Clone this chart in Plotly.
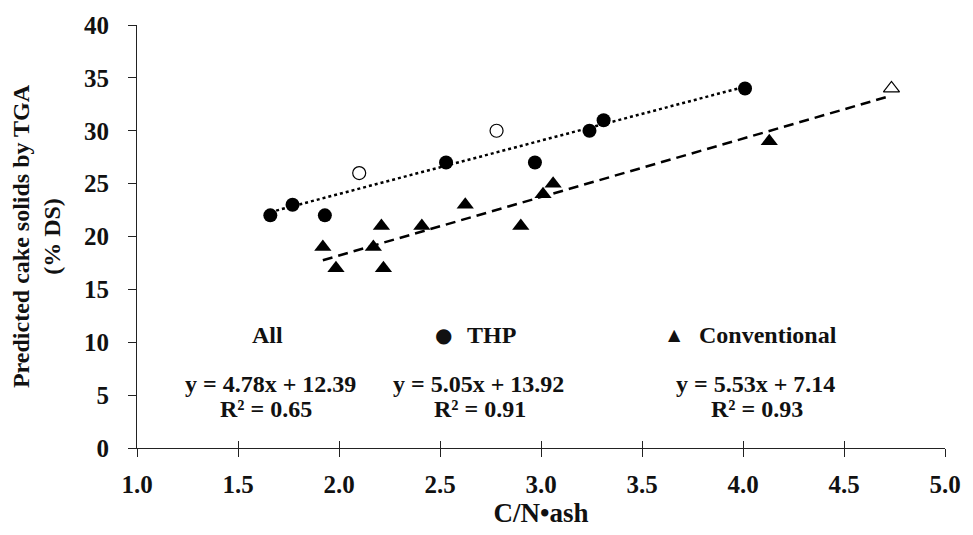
import plotly.graph_objects as go
import numpy as np

# THP (filled circles)
thp_x = [1.66, 1.77, 1.93, 2.53, 2.97, 3.24, 3.31, 4.01]
thp_y = [22, 23, 22, 27, 27, 30, 31, 34]
# THP open circles
thp_open_x = [2.10, 2.78]
thp_open_y = [26, 30]
# Conventional (filled triangles)
conv_x = [1.92, 1.985, 2.17, 2.21, 2.22, 2.41, 2.625, 2.90, 3.01, 3.06, 4.13]
conv_y = [19, 17, 19, 21, 17, 21, 23, 21, 24, 25, 29]
# Conventional open triangle
conv_open_x = [4.735]
conv_open_y = [34]

# Fitted lines (slope, intercept) as printed
thp_fit = [5.05, 13.92]
conv_fit = [5.53, 7.14]

x_ticks = [1.0, 1.5, 2.0, 2.5, 3.0, 3.5, 4.0, 4.5, 5.0]
y_ticks = [0, 5, 10, 15, 20, 25, 30, 35, 40]

FONT = "Liberation Serif"
fig = go.Figure()

# trend lines
tx = np.array([min(thp_x + thp_open_x), max(thp_x + thp_open_x)])
fig.add_trace(go.Scatter(x=tx, y=thp_fit[0] * tx + thp_fit[1], mode="lines",
                         line=dict(color="black", width=2.5, dash="dot"), hoverinfo="skip"))
cx = np.array([min(conv_x + conv_open_x), max(conv_x + conv_open_x)])
fig.add_trace(go.Scatter(x=cx, y=conv_fit[0] * cx + conv_fit[1], mode="lines",
                         line=dict(color="black", width=2.5, dash="10px,6px"), hoverinfo="skip"))

fig.add_trace(go.Scatter(x=thp_x, y=thp_y, mode="markers",
                         marker=dict(symbol="circle", size=14, color="black")))
fig.add_trace(go.Scatter(x=thp_open_x, y=thp_open_y, mode="markers",
                         marker=dict(symbol="circle", size=13, color="white",
                                     line=dict(color="black", width=1.2))))
fig.add_trace(go.Scatter(x=conv_x, y=conv_y, mode="markers",
                         marker=dict(symbol="triangle-up", size=15, color="black")))
fig.add_trace(go.Scatter(x=conv_open_x, y=conv_open_y, mode="markers",
                         marker=dict(symbol="triangle-up", size=14, color="white",
                                     line=dict(color="black", width=1.2))))

ann_font = dict(family=FONT, size=24, color="#111", weight="bold")
anns = [
    (1.644, 10.72, "All", 24),
    (2.515, 10.72, "●", 20),
    (2.753, 10.72, "THP", 24),
    (3.663, 10.72, "▲", 16),
    (4.122, 10.72, "Conventional", 24),
    (1.659, 6.03, "y = 4.78x + 12.39", 24),
    (1.639, 3.70, "R² = 0.65", 24),
    (2.693, 6.03, "y = 5.05x + 13.92", 24),
    (2.698, 3.70, "R² = 0.91", 24),
    (4.063, 6.03, "y = 5.53x + 7.14", 24),
    (4.067, 3.70, "R² = 0.93", 24),
]
for ax_, ay_, t, fs in anns:
    f = dict(ann_font)
    f["size"] = fs
    if t in ("●", "▲"):
        f["family"] = "DejaVu Sans"
    fig.add_annotation(x=ax_, y=ay_, text=t, showarrow=False, font=f,
                       xanchor="center", yanchor="middle")

tick_font = dict(family=FONT, size=25, color="#111", weight="bold")
fig.update_layout(
    width=973, height=535,
    margin=dict(l=137, r=28, t=18, b=86),
    paper_bgcolor="white", plot_bgcolor="white",
    showlegend=False,
    font=dict(family=FONT, color="black"),
    xaxis=dict(range=[1.0, 5.0], tickvals=x_ticks, ticktext=[f"{v:.1f}" for v in x_ticks],
               ticks="outside", ticklen=8, tickwidth=1, tickcolor="#222",
               showline=True, linecolor="#222", linewidth=1, showgrid=False, zeroline=False,
               tickfont=tick_font, ticklabelstandoff=6,
               title=dict(text="C/N•ash", font=dict(family=FONT, size=27, weight="bold", color="#111"),
                          standoff=6)),
    xaxis2=dict(range=[1.0, 5.0], overlaying="x", tickvals=x_ticks, showticklabels=False,
                ticks="inside", ticklen=7, tickwidth=1, tickcolor="#222",
                showline=False, showgrid=False, zeroline=False),
    yaxis=dict(range=[0, 40], tickvals=y_ticks,
               ticks="outside", ticklen=8, tickwidth=1, tickcolor="#222",
               showline=True, linecolor="#222", linewidth=1, showgrid=False, zeroline=False,
               tickfont=tick_font, ticklabelstandoff=14,
               title=dict(text="Predicted cake solids by TGA<br>(% DS)",
                          font=dict(family=FONT, size=24, weight="bold", color="#111"), standoff=16)),
)
# dummy trace for xaxis2 so it renders
fig.add_trace(go.Scatter(x=[None], y=[None], xaxis="x2", showlegend=False, hoverinfo="skip"))

fig.write_html("out.html")
